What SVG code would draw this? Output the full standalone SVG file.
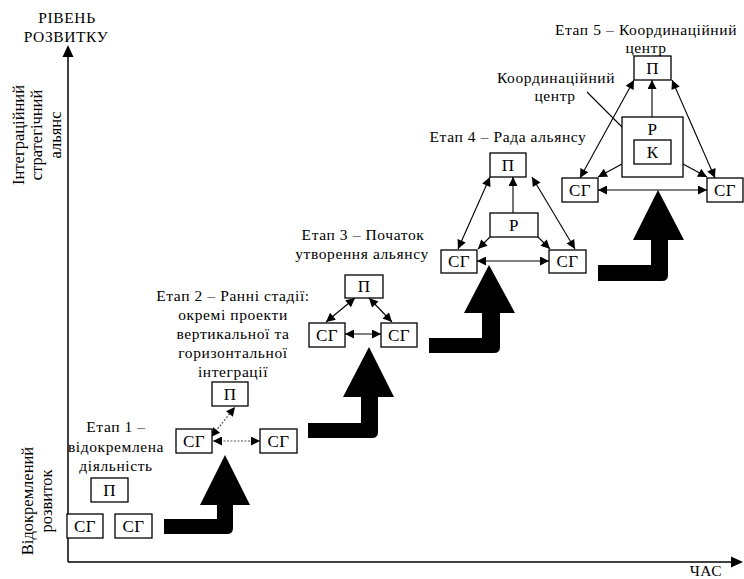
<svg xmlns="http://www.w3.org/2000/svg" width="744" height="579" viewBox="0 0 744 579">
<style>
text{font-family:"Liberation Serif","Times New Roman",serif;fill:#000}
.t{font-size:15.5px;letter-spacing:0.6px;text-anchor:middle}
.b{font-size:17px;letter-spacing:0.3px;text-anchor:middle}
.v{font-size:16.5px;text-anchor:middle}
.box{fill:#fff;stroke:#000;stroke-width:1.3}
.c{stroke:#000;stroke-width:1.1;fill:none}
.d{stroke:#555;stroke-width:1.2;stroke-dasharray:2 1.5;fill:none}
.big{fill:#000}
</style>
<defs>
<marker id="ah" viewBox="0 0 10 10" refX="10" refY="5" markerWidth="11" markerHeight="9" markerUnits="userSpaceOnUse" orient="auto-start-reverse">
<path d="M0,0 L10,5 L0,10 z" fill="#000"/>
</marker>
</defs>
<rect width="744" height="579" fill="#fff"/>

<g id="axes">
<line x1="68" y1="562" x2="68" y2="56" stroke="#000" stroke-width="1.5"/>
<polygon points="62.5,57 73.5,57 68,45" fill="#000"/>
<line x1="68" y1="562" x2="732" y2="562" stroke="#000" stroke-width="1.5"/>
<polygon points="731,556.5 731,567.5 743,562" fill="#000"/>
<text class="t" x="67" y="23">РІВЕНЬ</text>
<text class="t" x="66" y="42">РОЗВИТКУ</text>
<text class="t" x="706" y="576">ЧАС</text>
<text class="v" transform="translate(24,135) rotate(-90)">Інтеграційний</text>
<text class="v" transform="translate(42,135) rotate(-90)">стратегічний</text>
<text class="v" transform="translate(61,135) rotate(-90)">альянс</text>
<text class="v" transform="translate(33,501) rotate(-90)">Відокремлений</text>
<text class="v" transform="translate(52,501) rotate(-90)">розвиток</text>
</g>

<g id="big-arrows">
<path class="big" d="M164,519 H217 V505 H200 L225,455 L250,505 H233 V528 Q233,534 227,534 H164 Z"/>
<path class="big" d="M308,423 H361 V397 H343 L369,347 L394,397 H378 V432 Q378,438 372,438 H308 Z"/>
<path class="big" d="M429,338 H482 V313 H464 L489,265 L515,313 H500 V347 Q500,353 494,353 H429 Z"/>
<path class="big" d="M598,265 H651 V240 H633 L658,190 L684,240 H668 V275 Q668,281 662,281 H598 Z"/>
</g>

<g id="connectors">
<line class="d" x1="211" y1="437" x2="235" y2="407" marker-start="url(#ah)" marker-end="url(#ah)"/>
<line class="d" x1="213" y1="441" x2="260" y2="441" marker-start="url(#ah)" marker-end="url(#ah)"/>
<line class="c" x1="326" y1="322" x2="355" y2="298" marker-start="url(#ah)" marker-end="url(#ah)"/>
<line class="c" x1="369" y1="298" x2="392" y2="322" marker-start="url(#ah)" marker-end="url(#ah)"/>
<line class="c" x1="345" y1="334" x2="381" y2="334" marker-start="url(#ah)" marker-end="url(#ah)"/>
<line class="c" x1="458" y1="249" x2="490" y2="177" marker-start="url(#ah)" marker-end="url(#ah)"/>
<line class="c" x1="532" y1="177" x2="575" y2="249" marker-start="url(#ah)" marker-end="url(#ah)"/>
<line class="c" x1="513" y1="213" x2="513" y2="177" marker-end="url(#ah)"/>
<line class="c" x1="490" y1="237" x2="478" y2="249" marker-end="url(#ah)"/>
<line class="c" x1="538" y1="237" x2="550" y2="249" marker-end="url(#ah)"/>
<line class="c" x1="477" y1="261" x2="549" y2="261" marker-start="url(#ah)" marker-end="url(#ah)"/>
<line class="c" x1="580" y1="178" x2="634" y2="80" marker-start="url(#ah)" marker-end="url(#ah)"/>
<line class="c" x1="672" y1="80" x2="715" y2="178" marker-start="url(#ah)" marker-end="url(#ah)"/>
<line class="c" x1="652" y1="117" x2="652" y2="80" marker-end="url(#ah)"/>
<line class="c" x1="622" y1="164" x2="598" y2="177" marker-end="url(#ah)"/>
<line class="c" x1="683" y1="164" x2="707" y2="177" marker-end="url(#ah)"/>
<line class="c" x1="598" y1="190" x2="707" y2="190" marker-start="url(#ah)" marker-end="url(#ah)"/>
<line class="c" x1="587" y1="92" x2="637" y2="142"/>
</g>

<g id="stage1">
<text class="t" x="116" y="432">Етап 1 –</text>
<text class="t" x="116" y="452">відокремлена</text>
<text class="t" x="116" y="471">діяльність</text>
<g id="s1-p"><rect class="box" x="91" y="478" width="37" height="24"/><text class="b" x="109.5" y="496">П</text></g>
<g id="s1-sg1"><rect class="box" x="67" y="514" width="36" height="24"/><text class="b" x="85" y="532">СГ</text></g>
<g id="s1-sg2"><rect class="box" x="115" y="514" width="37" height="24"/><text class="b" x="133.5" y="532">СГ</text></g>
</g>

<g id="stage2">
<text class="t" x="233" y="301">Етап 2 – Ранні стадії:</text>
<text class="t" x="233" y="320">окремі проекти</text>
<text class="t" x="233" y="339">вертикальної та</text>
<text class="t" x="233" y="358">горизонтальної</text>
<text class="t" x="233" y="377">інтеграції</text>
<g id="s2-p"><rect class="box" x="212" y="382" width="36" height="24"/><text class="b" x="230" y="400">П</text></g>
<g id="s2-sg1"><rect class="box" x="176" y="429" width="36" height="24"/><text class="b" x="194" y="447">СГ</text></g>
<g id="s2-sg2"><rect class="box" x="260" y="429" width="37" height="24"/><text class="b" x="278.5" y="447">СГ</text></g>
</g>

<g id="stage3">
<text class="t" x="363" y="240">Етап 3 – Початок</text>
<text class="t" x="362" y="259">утворення альянсу</text>
<g id="s3-p"><rect class="box" x="345" y="275" width="38" height="23"/><text class="b" x="364" y="292">П</text></g>
<g id="s3-sg1"><rect class="box" x="309" y="323" width="36" height="24"/><text class="b" x="327" y="341">СГ</text></g>
<g id="s3-sg2"><rect class="box" x="381" y="323" width="36" height="24"/><text class="b" x="399" y="341">СГ</text></g>
</g>

<g id="stage4">
<text class="t" x="508" y="142">Етап 4 – Рада альянсу</text>
<g id="s4-p"><rect class="box" x="490" y="153" width="36" height="24"/><text class="b" x="508" y="171">П</text></g>
<g id="s4-r"><rect class="box" x="490" y="213" width="48" height="24"/><text class="b" x="514" y="231">Р</text></g>
<g id="s4-sg1"><rect class="box" x="441" y="250" width="36" height="23"/><text class="b" x="459" y="267">СГ</text></g>
<g id="s4-sg2"><rect class="box" x="549" y="250" width="37" height="23"/><text class="b" x="567.5" y="267">СГ</text></g>
</g>

<g id="stage5">
<text class="t" x="646" y="35">Етап 5 – Координаційний</text>
<text class="t" x="646" y="53">центр</text>
<text class="t" x="556" y="83">Координаційний</text>
<text class="t" x="555" y="101">центр</text>
<g id="s5-p"><rect class="box" x="634" y="56" width="37" height="24"/><text class="b" x="652.5" y="74">П</text></g>
<g id="s5-r"><rect class="box" x="622" y="117" width="61" height="60"/><text class="b" x="652.5" y="135">Р</text></g>
<g id="s5-k"><rect class="box" x="634" y="140" width="37" height="24"/><text class="b" x="652.5" y="158">К</text></g>
<g id="s5-sg1"><rect class="box" x="562" y="178" width="36" height="24"/><text class="b" x="580" y="196">СГ</text></g>
<g id="s5-sg2"><rect class="box" x="707" y="178" width="36" height="24"/><text class="b" x="725" y="196">СГ</text></g>
</g>
</svg>
